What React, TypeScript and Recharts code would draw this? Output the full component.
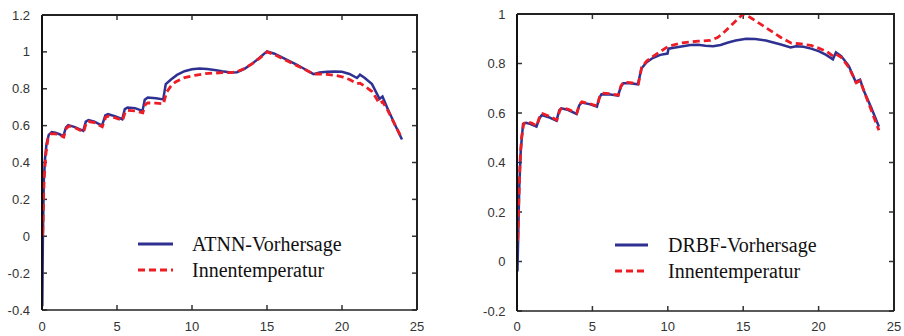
import React from "react";
import { LineChart, Line, XAxis, YAxis, Legend, CartesianGrid } from "recharts";

// ---------- Left chart (ATNN) ----------
const atnnX = [0, 0.02, 0.06, 0.12, 0.2, 0.3, 0.45, 0.65, 0.9, 1.2, 1.42, 1.6, 1.75, 2.2, 2.75, 2.92, 3.1, 3.5, 4.0, 4.22, 4.4, 4.9, 5.35, 5.52, 5.7, 6.2, 6.7, 6.85, 7.05, 7.6, 8.08, 8.25, 8.6, 9.0, 9.5, 10.0, 10.5, 11.0, 11.5, 12.0, 12.6, 13.0, 13.5, 14.0, 14.5, 15.0, 15.5, 16.0, 16.5, 17.0, 17.5, 18.1, 18.5, 19.0, 19.5, 20.0, 20.5, 21.0, 21.2, 21.5, 22.0, 22.5, 22.7, 23.0, 23.5, 24.0];
const atnnY = [0.12, -0.38, 0.0, 0.3, 0.42, 0.5, 0.55, 0.565, 0.562, 0.552, 0.543, 0.59, 0.603, 0.592, 0.572, 0.622, 0.63, 0.622, 0.6, 0.655, 0.662, 0.65, 0.635, 0.69, 0.698, 0.695, 0.68, 0.74, 0.752, 0.748, 0.742, 0.825, 0.85, 0.875, 0.895, 0.906, 0.91, 0.907, 0.902, 0.895, 0.888, 0.89, 0.908, 0.935, 0.968, 1.003, 0.99, 0.97, 0.95, 0.93, 0.907, 0.879, 0.888, 0.892, 0.894, 0.892, 0.88, 0.858, 0.876, 0.86, 0.825, 0.745, 0.758, 0.7, 0.61, 0.525];

const innenLX = [0, 0.05, 0.1, 0.15, 0.25, 0.4, 0.6, 0.9, 1.2, 1.45, 1.62, 1.8, 2.2, 2.78, 2.95, 3.1, 3.5, 4.02, 4.25, 4.4, 4.9, 5.37, 5.55, 5.7, 6.2, 6.72, 6.9, 7.05, 7.6, 8.1, 8.3, 8.6, 8.9, 9.5, 10.2, 10.9, 11.5, 12.0, 12.6, 13.0, 13.5, 14.0, 14.5, 15.0, 15.5, 16.0, 16.5, 17.0, 17.5, 18.1, 18.5, 19.0, 19.5, 20.0, 20.5, 21.0, 21.2, 21.5, 22.0, 22.5, 22.7, 23.0, 23.5, 24.0];
const innenLY = [0.1, 0.0, 0.2, 0.32, 0.44, 0.53, 0.555, 0.555, 0.548, 0.538, 0.585, 0.598, 0.588, 0.565, 0.615, 0.622, 0.616, 0.594, 0.645, 0.652, 0.642, 0.628, 0.675, 0.683, 0.68, 0.67, 0.715, 0.723, 0.722, 0.718, 0.78, 0.815, 0.837, 0.86, 0.873, 0.882, 0.885, 0.887, 0.888, 0.893, 0.91, 0.935, 0.965, 1.0, 0.985, 0.965, 0.945, 0.925, 0.905, 0.88, 0.88, 0.878, 0.873, 0.865, 0.85, 0.828, 0.83, 0.815, 0.785, 0.72, 0.73, 0.69, 0.61, 0.53];

// ---------- Right chart (DRBF) ----------
const drbfX = [0, 0.03, 0.08, 0.15, 0.25, 0.4, 0.6, 0.9, 1.29, 1.5, 1.65, 2.1, 2.62, 2.8, 2.95, 3.4, 3.95, 4.12, 4.28, 4.8, 5.3, 5.45, 5.6, 6.2, 6.7, 6.88, 7.05, 7.5, 8.02, 8.25, 8.6, 9.0, 9.5, 9.98, 10.05, 10.5, 11.0, 11.5, 12.0, 12.5, 13.0, 13.5, 14.0, 14.5, 15.2, 15.8, 16.5, 17.0, 17.5, 18.15, 18.5, 19.0, 19.5, 20.0, 20.5, 20.95, 21.15, 21.5, 22.0, 22.45, 22.75, 23.0, 23.5, 24.0];
const drbfY = [0.15, -0.04, 0.1, 0.3, 0.45, 0.555, 0.56, 0.555, 0.545, 0.58, 0.592, 0.583, 0.569, 0.61, 0.619, 0.612, 0.596, 0.63, 0.642, 0.636, 0.626, 0.66, 0.676, 0.675, 0.67, 0.705, 0.72, 0.72, 0.716, 0.78, 0.805, 0.822, 0.835, 0.84, 0.86, 0.865, 0.87, 0.875, 0.876, 0.872, 0.87, 0.875, 0.885, 0.893, 0.9, 0.899, 0.893, 0.885, 0.877, 0.865, 0.87, 0.868, 0.86, 0.85, 0.835, 0.817, 0.845, 0.83, 0.79, 0.727, 0.735, 0.69, 0.62, 0.545];

const innenRX = [0, 0.05, 0.12, 0.2, 0.3, 0.45, 0.7, 1.0, 1.3, 1.5, 1.7, 2.1, 2.65, 2.85, 3.0, 3.4, 3.97, 4.15, 4.3, 4.8, 5.32, 5.48, 5.65, 6.2, 6.72, 6.9, 7.08, 7.5, 8.05, 8.27, 8.6, 9.0, 9.5, 10.0, 10.8, 11.5, 12.0, 12.8, 13.3, 13.8, 14.3, 15.0, 15.5, 16.0, 16.5, 17.0, 17.5, 18.2, 18.7, 19.5, 20.0, 20.5, 20.96, 21.15, 21.5, 22.0, 22.5, 22.75, 23.0, 23.5, 24.0];
const innenRY = [0.2, 0.08, 0.25, 0.4, 0.5, 0.558, 0.565, 0.558, 0.548, 0.585, 0.597, 0.588, 0.572, 0.612, 0.622, 0.615, 0.6, 0.635, 0.645, 0.638, 0.628, 0.665, 0.68, 0.678, 0.672, 0.71, 0.725, 0.723, 0.718, 0.785, 0.81, 0.828, 0.848, 0.868, 0.882, 0.887, 0.89, 0.893, 0.905, 0.93, 0.96, 1.0, 0.985, 0.965, 0.945, 0.925, 0.905, 0.882, 0.88, 0.873, 0.862, 0.85, 0.83, 0.838, 0.825, 0.785, 0.722, 0.73, 0.69, 0.61, 0.53];

const xTicks = [0, 5, 10, 15, 20, 25];
const leftYTicks = [-0.4, -0.2, 0, 0.2, 0.4, 0.6, 0.8, 1, 1.2];
const rightYTicks = [-0.2, 0, 0.2, 0.4, 0.6, 0.8, 1];

const atnnName = "ATNN-Vorhersage";
const drbfName = "DRBF-Vorhersage";
const innenName = "Innentemperatur";

const zip = (xs: number[], ys: number[]) => xs.map((x, i) => ({ x, y: ys[i] }));

const BLUE = "#2e3192";
const RED = "#ee1c25";
const FRAME = "#222";
const TICK = "#333";
const TL = 5;
const tickFont = { fontFamily: "Liberation Sans, Arial, sans-serif", fontSize: 13, fill: "#333" };

// Grid line renderers: inward tick marks at both ends of each tick position.
const renderHorizontal = (p: any) => {
  const { x1, x2, y1 } = p;
  return (
    <g key={p.key ?? `h-${p.index}`}>
      <line x1={x1} y1={y1} x2={x1 + TL} y2={y1} stroke={TICK} strokeWidth={1.5} />
      <line x1={x2 - TL} y1={y1} x2={x2} y2={y1} stroke={TICK} strokeWidth={1.5} />
    </g>
  );
};
const renderVertical = (p: any) => {
  const { x1, y1, y2 } = p;
  return (
    <g key={p.key ?? `v-${p.index}`}>
      <line x1={x1} y1={y1} x2={x1} y2={y1 + TL} stroke={TICK} strokeWidth={1.5} />
      <line x1={x1} y1={y2 - TL} x2={x1} y2={y2} stroke={TICK} strokeWidth={1.5} />
    </g>
  );
};

function LegendBox({ payload, sampleW, gap }: any) {
  const items = (payload || []).filter((e: any) => e.type !== "none");
  return (
    <div style={{ fontFamily: "Liberation Serif, Times New Roman, serif", fontSize: 20, color: "#111" }}>
      {items.map((e: any, i: number) => {
        const dash = e?.payload?.strokeDasharray;
        return (
          <div key={i} style={{ display: "flex", alignItems: "center", height: 26 }}>
            <svg width={sampleW + gap} height={10} style={{ display: "block" }}>
              <line x1={0} y1={5} x2={sampleW} y2={5} stroke={e.color} strokeWidth={3} strokeDasharray={dash} />
            </svg>
            <span style={{ lineHeight: "26px", whiteSpace: "nowrap" }}>{e.value}</span>
          </div>
        );
      })}
    </div>
  );
}

function Panel({ width, height, margin, yAxisWidth, xAxisHeight, yDomain, yTicks, predName, predData, innenData, legendPos, yTickMargin, xTickMargin, sampleW, gap }: any) {
  const plotLeft = yAxisWidth + margin.left;
  const plotRight = width - margin.right;
  const plotTop = margin.top;
  const plotBottom = height - xAxisHeight - margin.bottom;
  return (
    <div style={{ position: "relative", width, height }}>
      <LineChart width={width} height={height} margin={margin}>
        <CartesianGrid xAxisId="b" yAxisId="l" horizontal={renderHorizontal} vertical={renderVertical} />
        <XAxis xAxisId="b" dataKey="x" type="number" domain={[0, 25]} ticks={xTicks} orientation="bottom"
          height={xAxisHeight} tickSize={-5} tickMargin={xTickMargin} interval={0} allowDataOverflow
          axisLine={{ stroke: FRAME, strokeWidth: 1.5 }} tickLine={{ stroke: "none" }} tick={tickFont} />
        <YAxis yAxisId="l" type="number" domain={yDomain} ticks={yTicks} orientation="left" width={yAxisWidth}
          tickSize={-5} tickMargin={yTickMargin} interval={0} allowDataOverflow
          axisLine={{ stroke: "#111", strokeWidth: 2 }} tickLine={{ stroke: "none" }} tick={tickFont} />
        <Line xAxisId="b" yAxisId="l" data={predData} dataKey="y" name={predName} type="linear"
          stroke={BLUE} strokeWidth={2.5} dot={false} isAnimationActive={false} />
        <Line xAxisId="b" yAxisId="l" data={innenData} dataKey="y" name={innenName} type="linear"
          stroke={RED} strokeWidth={2.8} strokeDasharray="7 4" dot={false} isAnimationActive={false} />
        <Legend layout="vertical" align="center" verticalAlign="middle"
          wrapperStyle={{ left: legendPos.left, top: legendPos.top, width: "auto" }}
          content={(p: any) => <LegendBox payload={p.payload} sampleW={sampleW} gap={gap} />} />
      </LineChart>
      {/* top and right edges of the plot frame */}
      <div style={{ position: "absolute", left: plotLeft, top: plotTop - 1, width: plotRight - plotLeft + 1, height: 2, background: FRAME, pointerEvents: "none", zIndex: 5 }} />
      <div style={{ position: "absolute", left: plotRight - 1, top: plotTop - 1, width: 2, height: plotBottom - plotTop + 1, background: FRAME, pointerEvents: "none", zIndex: 5 }} />
    </div>
  );
}

export default function App() {
  return (
    <div style={{ position: "absolute", left: 0, top: 0, width: 904, height: 336, background: "#fff" }}>
      <div style={{ position: "absolute", left: 0, top: 0 }}>
        <Panel width={452} height={336} margin={{ top: 15, right: 35, left: 0, bottom: 0 }}
          yAxisWidth={42} xAxisHeight={26} yDomain={[-0.4, 1.2]} yTicks={leftYTicks}
          predName={atnnName} predData={zip(atnnX, atnnY)} innenData={zip(innenLX, innenLY)}
          legendPos={{ left: 138, top: 231 }} yTickMargin={17} xTickMargin={17} sampleW={35} gap={19} />
      </div>
      <div style={{ position: "absolute", left: 455, top: 0 }}>
        <Panel width={449} height={336} margin={{ top: 14, right: 10, left: 0, bottom: 0 }}
          yAxisWidth={62} xAxisHeight={25} yDomain={[-0.2, 1]} yTicks={rightYTicks}
          predName={drbfName} predData={zip(drbfX, drbfY)} innenData={zip(innenRX, innenRY)}
          legendPos={{ left: 160, top: 232 }} yTickMargin={16.5} xTickMargin={16} sampleW={33} gap={20} />
      </div>
    </div>
  );
}
